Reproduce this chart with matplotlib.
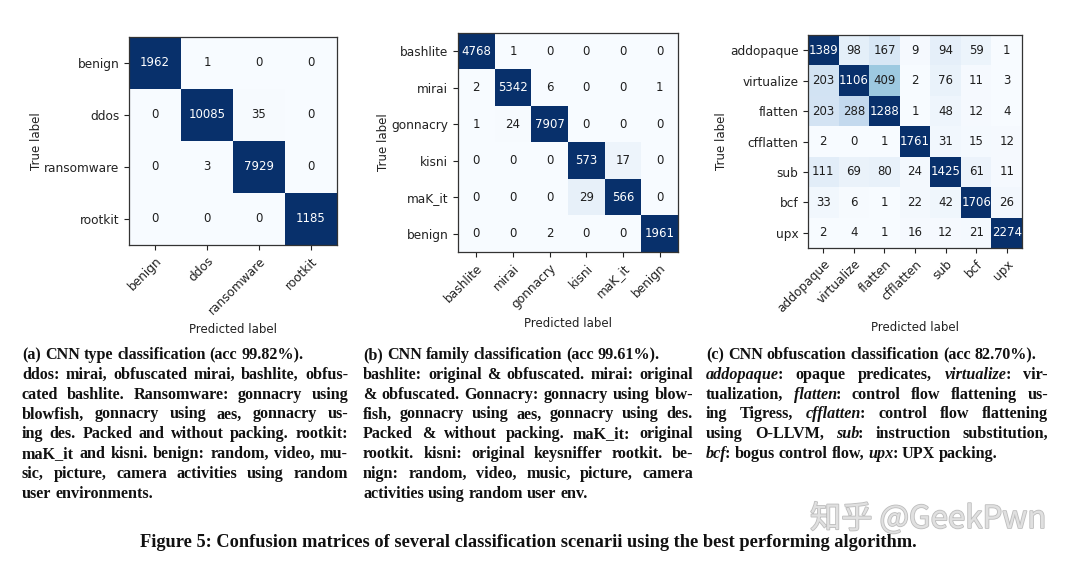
import matplotlib
matplotlib.use('Agg')
import matplotlib.pyplot as plt
import matplotlib.patheffects as pe
import numpy as np

# confusion matrices (counts)
type_labels = ['benign', 'ddos', 'ransomware', 'rootkit']
type_cm = [[1962, 1, 0, 0],
           [0, 10085, 35, 0],
           [0, 3, 7929, 0],
           [0, 0, 0, 1185]]

family_labels = ['bashlite', 'mirai', 'gonnacry', 'kisni', 'maK_it', 'benign']
family_cm = [[4768, 1, 0, 0, 0, 0],
             [2, 5342, 6, 0, 0, 1],
             [1, 24, 7907, 0, 0, 0],
             [0, 0, 0, 573, 17, 0],
             [0, 0, 0, 29, 566, 0],
             [0, 0, 2, 0, 0, 1961]]

obf_labels = ['addopaque', 'virtualize', 'flatten', 'cfflatten', 'sub', 'bcf', 'upx']
obf_cm = [[1389, 98, 167, 9, 94, 59, 1],
          [203, 1106, 409, 2, 76, 11, 3],
          [203, 288, 1288, 1, 48, 12, 4],
          [2, 0, 1, 1761, 31, 15, 12],
          [111, 69, 80, 24, 1425, 61, 11],
          [33, 6, 1, 22, 42, 1706, 26],
          [2, 4, 1, 16, 12, 21, 2274]]

# sub captions, one entry per printed line; *word* = italic
cap_a = ['(a) CNN type classification (acc 99.82%).',
         'ddos: mirai, obfuscated mirai, bashlite, obfus-',
         'cated bashlite. Ransomware: gonnacry using',
         'blowfish, gonnacry using aes, gonnacry us-',
         'ing des. Packed and without packing. rootkit:',
         'maK_it and kisni. benign: random, video, mu-',
         'sic, picture, camera activities using random',
         'user environments.']
cap_b = ['(b) CNN family classification (acc 99.61%).',
         'bashlite: original & obfuscated. mirai: original',
         '& obfuscated. Gonnacry: gonnacry using blow-',
         'fish, gonnacry using aes, gonnacry using des.',
         'Packed & without packing. maK_it: original',
         'rootkit. kisni: original keysniffer rootkit. be-',
         'nign: random, video, music, picture, camera',
         'activities using random user env.']
cap_c = ['(c) CNN obfuscation classification (acc 82.70%).',
         '*addopaque*: opaque predicates, *virtualize*: vir-',
         'tualization, *flatten*: control flow flattening us-',
         'ing Tigress, *cfflatten*: control flow flattening',
         'using O-LLVM, *sub*: instruction substitution,',
         '*bcf*: bogus control flow, *upx*: UPX packing.']
fig_caption = 'Figure 5: Confusion matrices of several classification scenarii using the best performing algorithm.'

W, H = 1080, 564
fig = plt.figure(figsize=(W / 100, H / 100), dpi=100)
fig.patch.set_facecolor('white')


def px_axes(l, t, r, b):
    return fig.add_axes([l / W, 1 - b / H, (r - l) / W, (b - t) / H])


def plot_cm(ax, cm, labels, vmax=0.6):
    cm = np.array(cm)
    norm = cm / cm.sum(axis=1, keepdims=True)
    ax.imshow(norm, cmap='Blues', vmin=0, vmax=vmax, aspect='auto',
              interpolation='nearest')
    n = len(labels)
    for i in range(n):
        for j in range(n):
            c = 'white' if norm[i, j] > vmax / 2 else '#1e1e1e'
            ax.text(j, i, str(cm[i, j]), ha='center', va='center',
                    color=c, fontsize=8.5)
    ax.set_xticks(range(n))
    ax.set_yticks(range(n))
    ax.set_xticklabels(labels, rotation=45, ha='right', rotation_mode='anchor')
    ax.set_yticklabels(labels)
    ax.tick_params(labelsize=8.7, colors='#222222', length=3.5)
    ax.set_xlabel('Predicted label', fontsize=8.5, color='#222222')
    ax.set_ylabel('True label', fontsize=8.5, color='#222222', labelpad=1)
    for s in ax.spines.values():
        s.set_color('#333333')
        s.set_linewidth(0.9)


ax1 = px_axes(129, 37, 337, 245)
plot_cm(ax1, type_cm, type_labels)
ax2 = px_axes(458, 33, 678, 252)
plot_cm(ax2, family_cm, family_labels)
ax3 = px_axes(808, 35, 1022, 248)
plot_cm(ax3, obf_cm, obf_labels)

renderer = fig.canvas.get_renderer()
cap_font = 'Liberation Serif'
cap_size = 11.6


def seg_width(txt, style):
    t = fig.text(0, 0, txt, fontfamily=cap_font, fontweight='bold',
                 fontstyle=style, fontsize=cap_size)
    w = t.get_window_extent(renderer).width
    t.remove()
    if style == 'italic':
        w -= 1.5
    return w


space_w = seg_width('n n', 'normal') - seg_width('nn', 'normal')


def draw_caption(lines, x0, x1, y0, dy):
    for k, line in enumerate(lines):
        words = []
        for w in line.split(' '):
            parts = w.split('*')
            segs = [(p, 'italic' if i % 2 else 'normal') for i, p in enumerate(parts) if p]
            words.append(segs)
        widths = [sum(seg_width(p, s) for p, s in segs) for segs in words]
        justify = 0 < k < len(lines) - 1
        if justify and len(words) > 1:
            gap = (x1 - x0 - sum(widths)) / (len(words) - 1)
            gap = max(gap, 0.5 * space_w)
        else:
            gap = space_w
        x = x0
        y = y0 + k * dy
        for segs, wd in zip(words, widths):
            xx = x
            for p, s in segs:
                fig.text(xx / W, 1 - y / H, p, fontfamily=cap_font,
                         fontweight='bold', fontstyle=s, fontsize=cap_size,
                         va='baseline', ha='left', color='#111111')
                xx += seg_width(p, s)
            x += wd + gap


draw_caption(cap_a, 22, 348, 359, 19.8)
draw_caption(cap_b, 363, 693, 359, 19.8)
draw_caption(cap_c, 706, 1048, 359, 19.8)

fig.text(810 / W, 1 - 519 / H, '知乎 @GeekPwn', fontfamily=['Noto Sans CJK SC', 'DejaVu Sans'],
         fontsize=22.5, color='#e0e0e0', va='center', ha='left',
         path_effects=[pe.withStroke(linewidth=1.2, foreground='#bdbdbd')])

fig.text(528 / W, 1 - 547 / H, fig_caption, fontfamily=cap_font, fontweight='bold',
         fontsize=13.2, ha='center', va='baseline', color='#111111')

fig.savefig('out.png', dpi=100)
